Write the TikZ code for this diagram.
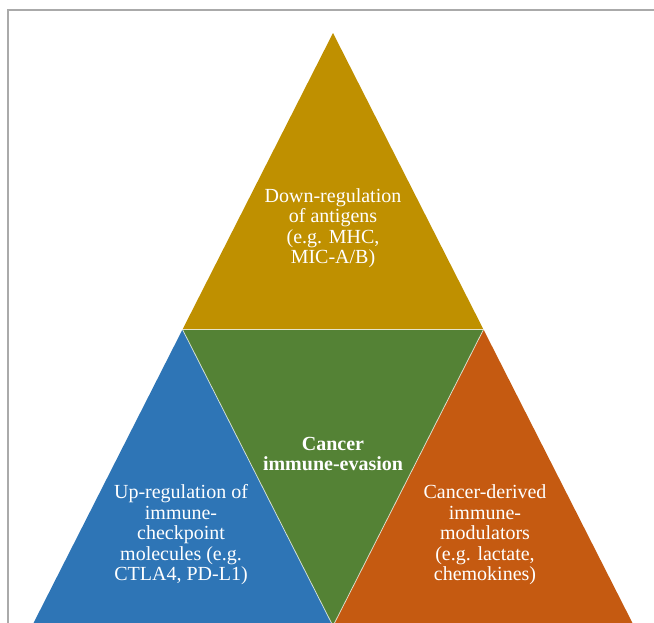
\documentclass[tikz,border=0pt]{standalone}
\usepackage{fontspec}
\setmainfont{Liberation Serif}
\definecolor{cgold}{RGB}{191,144,0}
\definecolor{cgreen}{RGB}{84,130,53}
\definecolor{cblue}{RGB}{46,117,182}
\definecolor{corange}{RGB}{197,90,17}
\definecolor{cframe}{RGB}{170,170,170}
\begin{document}
\begin{tikzpicture}[x=0.75pt,y=-0.75pt,
  tri/.style={draw=white, draw opacity=0.7, line width=0.6pt, line join=miter},
  lbl/.style={text=white, align=center, font=\fontsize{15}{15.4}\selectfont, inner sep=0pt}]
\useasboundingbox (0,0) rectangle (654,622);
\clip (0,0) rectangle (654,622);
\coordinate (apex) at (333,33);
\coordinate (ml) at (182.5,329.5);
\coordinate (mr) at (483.5,329.5);
\coordinate (bl) at (32,626);
\coordinate (bm) at (333,626);
\coordinate (br) at (634,626);
% frame
\draw[cframe, line width=0.9pt] (8,640) -- (8,10) -- (660,10);
% triangles
\fill[cgold] (apex) -- (ml) -- (mr) -- cycle;
\fill[cblue] (ml) -- (bl) -- (bm) -- cycle;
\fill[corange] (mr) -- (bm) -- (br) -- cycle;
\fill[cgreen] (ml) -- (mr) -- (bm) -- cycle;
\draw[tri] (ml) -- (mr) -- (bm) -- cycle;
% labels
\node[lbl] (top) at (333,228) {Down-regulation\\of antigens\\(e.g. MHC,\\MIC-A/B)};
\node[lbl, font=\fontsize{15}{15.6}\selectfont\bfseries] (mid) at (333,454) {Cancer\\immune-evasion};
\node[lbl] (left) at (181,535) {Up-regulation of\\immune-\\checkpoint\\molecules (e.g.\\CTLA4, PD-L1)};
\node[lbl] (right) at (485,535) {Cancer-derived\\immune-\\modulators\\(e.g. lactate,\\chemokines)};
\end{tikzpicture}
\end{document}
